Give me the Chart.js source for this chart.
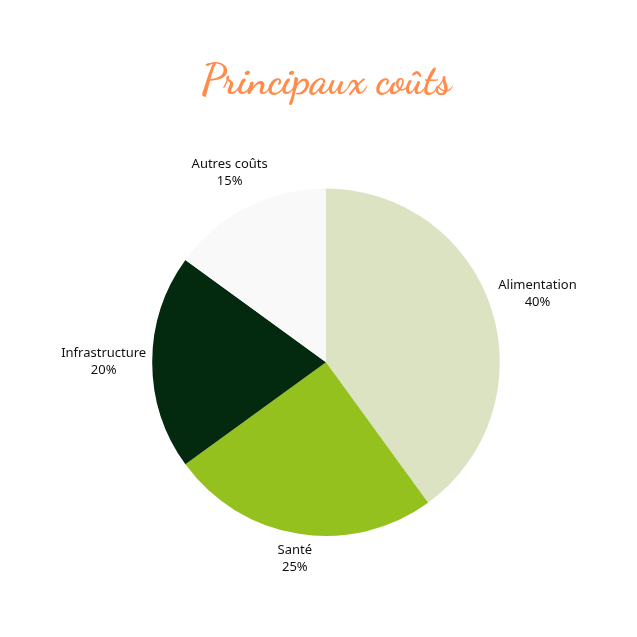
<!DOCTYPE html>
<html>
<head>
<meta charset="utf-8">
<script src="https://cdn.jsdelivr.net/npm/chart.js@4"></script>
<style>
html,body{margin:0;padding:0;background:#ffffff;}
#c{display:block;}
</style>
</head>
<body>
<canvas id="c" width="637" height="637"></canvas>
<script>
const categories = ["Alimentation", "Santé", "Infrastructure", "Autres coûts"];
const shares = [40, 25, 20, 15];
const sliceColors = ["#dce3c3", "#95c11f", "#03290e", "#f9f9f9"];
const titleText = "Principaux coûts";

const outsideLabels = {
  id: "outsideLabels",
  afterDatasetsDraw(chart) {
    const ctx = chart.ctx;
    const meta = chart.getDatasetMeta(0);
    const data = chart.data.datasets[0].data;
    ctx.save();
    ctx.font = "13px 'Noto Sans', sans-serif";
    ctx.fillStyle = "#111111";
    ctx.textAlign = "center";
    ctx.textBaseline = "middle";
    const lineH = 17;
    meta.data.forEach((arc, i) => {
      const p = arc.getProps(["x", "y", "startAngle", "endAngle", "outerRadius"], true);
      const mid = (p.startAngle + p.endAngle) / 2;
      const c = Math.cos(mid), s = Math.sin(mid);
      const lines = [chart.data.labels[i], data[i] + "%"];
      const w = Math.max(...lines.map(l => ctx.measureText(l).width));
      const h = lines.length * lineH;
      const d = p.outerRadius + 6 + Math.abs(c) * w / 2 + Math.abs(s) * h / 2;
      const cx = p.x + c * d, cy = p.y + s * d;
      lines.forEach((l, k) => {
        ctx.fillText(l, cx, cy - h / 2 + lineH * (k + 0.5));
      });
    });
    ctx.restore();
  }
};

new Chart(document.getElementById("c"), {
  type: "pie",
  data: {
    labels: categories,
    datasets: [{
      data: shares,
      backgroundColor: sliceColors,
      borderWidth: 0
    }]
  },
  options: {
    responsive: false,
    animation: false,
    layout: { padding: { top: 0, left: 152, right: 137, bottom: 101 } },
    plugins: {
      legend: { display: false },
      tooltip: { enabled: false },
      title: {
        display: true,
        text: titleText,
        color: "#ff8c4a",
        font: { family: "'Dancing Script', 'Comic Sans MS', cursive, 'DejaVu Serif'", size: 42, style: "normal", weight: "bold", lineHeight: 1.2 },
        padding: { top: 57, bottom: 81 }
      }
    }
  },
  plugins: [outsideLabels]
});
</script>
</body>
</html>
